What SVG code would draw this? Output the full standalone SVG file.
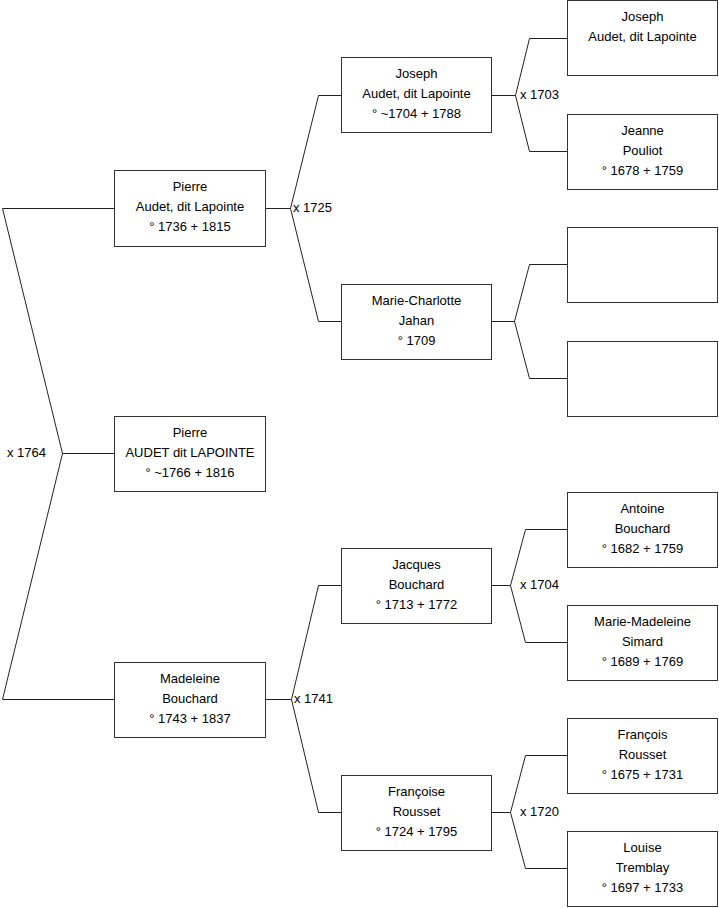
<svg xmlns="http://www.w3.org/2000/svg" width="719" height="908" viewBox="0 0 719 908">
<style>
.box{fill:#fff;stroke:#333;stroke-width:1}
.t{font-family:"Liberation Sans",Arial,sans-serif;font-size:13px;fill:#000;text-anchor:middle}
.l{font-family:"Liberation Sans",Arial,sans-serif;font-size:13px;fill:#000}
.c{fill:none;stroke:#222;stroke-width:1}
</style>
<rect width="719" height="908" fill="#fff"/>
<g id="connectors">
<path class="c" d="M114,208.5 H2.5 L62.5,453.5 L2.5,699.5 H114 M62.5,453.5 H114"/>
<path class="c" d="M265,208.5 H290.5 L318.5,95.5 H341 M290.5,208.5 L318.5,321.5 H341"/>
<path class="c" d="M265,699.5 H291.5 L318.5,585.5 H341 M291.5,699.5 L318.5,812.5 H341"/>
<path class="c" d="M492,95.5 H515.5 L529.5,38.5 H567 M515.5,95.5 L529.5,151.5 H567"/>
<path class="c" d="M492,321.5 H514.5 L529.5,264.5 H567 M514.5,321.5 L529.5,378.5 H567"/>
<path class="c" d="M492,585.5 H510.5 L525.5,529.5 H567 M510.5,585.5 L525.5,642.5 H567"/>
<path class="c" d="M492,812.5 H510.5 L525.5,755.5 H567 M510.5,812.5 L525.5,868.5 H567"/>
<text class="l" x="7" y="457">x 1764</text>
<text class="l" x="293" y="212">x 1725</text>
<text class="l" x="294" y="703">x 1741</text>
<text class="l" x="520" y="99">x 1703</text>
<text class="l" x="520" y="589">x 1704</text>
<text class="l" x="520" y="816">x 1720</text>
</g>
<g id="n-pierre">
<rect class="box" x="114.5" y="170.5" width="151" height="76"/>
<text class="t" x="190" y="191">Pierre</text>
<text class="t" x="190" y="211">Audet, dit Lapointe</text>
<text class="t" x="190" y="231">° 1736 + 1815</text>
</g>
<g id="n-root">
<rect class="box" x="114.5" y="416.5" width="151" height="75"/>
<text class="t" x="190" y="437">Pierre</text>
<text class="t" x="190" y="457">AUDET dit LAPOINTE</text>
<text class="t" x="190" y="477">° ~1766 + 1816</text>
</g>
<g id="n-madeleine">
<rect class="box" x="114.5" y="662.5" width="151" height="75"/>
<text class="t" x="190" y="683">Madeleine</text>
<text class="t" x="190" y="703">Bouchard</text>
<text class="t" x="190" y="723">° 1743 + 1837</text>
</g>
<g id="n-joseph2">
<rect class="box" x="341.5" y="57.5" width="150" height="75"/>
<text class="t" x="416.5" y="78">Joseph</text>
<text class="t" x="416.5" y="98">Audet, dit Lapointe</text>
<text class="t" x="416.5" y="118">° ~1704 + 1788</text>
</g>
<g id="n-mariecharlotte">
<rect class="box" x="341.5" y="284.5" width="150" height="75"/>
<text class="t" x="416.5" y="305">Marie-Charlotte</text>
<text class="t" x="416.5" y="325">Jahan</text>
<text class="t" x="416.5" y="345">° 1709</text>
</g>
<g id="n-jacques">
<rect class="box" x="341.5" y="548.5" width="150" height="75"/>
<text class="t" x="416.5" y="569">Jacques</text>
<text class="t" x="416.5" y="589">Bouchard</text>
<text class="t" x="416.5" y="609">° 1713 + 1772</text>
</g>
<g id="n-francoise">
<rect class="box" x="341.5" y="775.5" width="150" height="75"/>
<text class="t" x="416.5" y="796">Françoise</text>
<text class="t" x="416.5" y="816">Rousset</text>
<text class="t" x="416.5" y="836">° 1724 + 1795</text>
</g>
<g id="n-joseph3">
<rect class="box" x="567.5" y="0.5" width="150" height="75"/>
<text class="t" x="642.5" y="21">Joseph</text>
<text class="t" x="642.5" y="41">Audet, dit Lapointe</text>
</g>
<g id="n-jeanne">
<rect class="box" x="567.5" y="114.5" width="150" height="75"/>
<text class="t" x="642.5" y="135">Jeanne</text>
<text class="t" x="642.5" y="155">Pouliot</text>
<text class="t" x="642.5" y="175">° 1678 + 1759</text>
</g>
<g id="n-empty1">
<rect class="box" x="567.5" y="227.5" width="150" height="75"/>
</g>
<g id="n-empty2">
<rect class="box" x="567.5" y="341.5" width="150" height="75"/>
</g>
<g id="n-antoine">
<rect class="box" x="567.5" y="492.5" width="150" height="75"/>
<text class="t" x="642.5" y="513">Antoine</text>
<text class="t" x="642.5" y="533">Bouchard</text>
<text class="t" x="642.5" y="553">° 1682 + 1759</text>
</g>
<g id="n-mariemadeleine">
<rect class="box" x="567.5" y="605.5" width="150" height="75"/>
<text class="t" x="642.5" y="626">Marie-Madeleine</text>
<text class="t" x="642.5" y="646">Simard</text>
<text class="t" x="642.5" y="666">° 1689 + 1769</text>
</g>
<g id="n-francois">
<rect class="box" x="567.5" y="718.5" width="150" height="75"/>
<text class="t" x="642.5" y="739">François</text>
<text class="t" x="642.5" y="759">Rousset</text>
<text class="t" x="642.5" y="779">° 1675 + 1731</text>
</g>
<g id="n-louise">
<rect class="box" x="567.5" y="831.5" width="150" height="75"/>
<text class="t" x="642.5" y="852">Louise</text>
<text class="t" x="642.5" y="872">Tremblay</text>
<text class="t" x="642.5" y="892">° 1697 + 1733</text>
</g>
</svg>
